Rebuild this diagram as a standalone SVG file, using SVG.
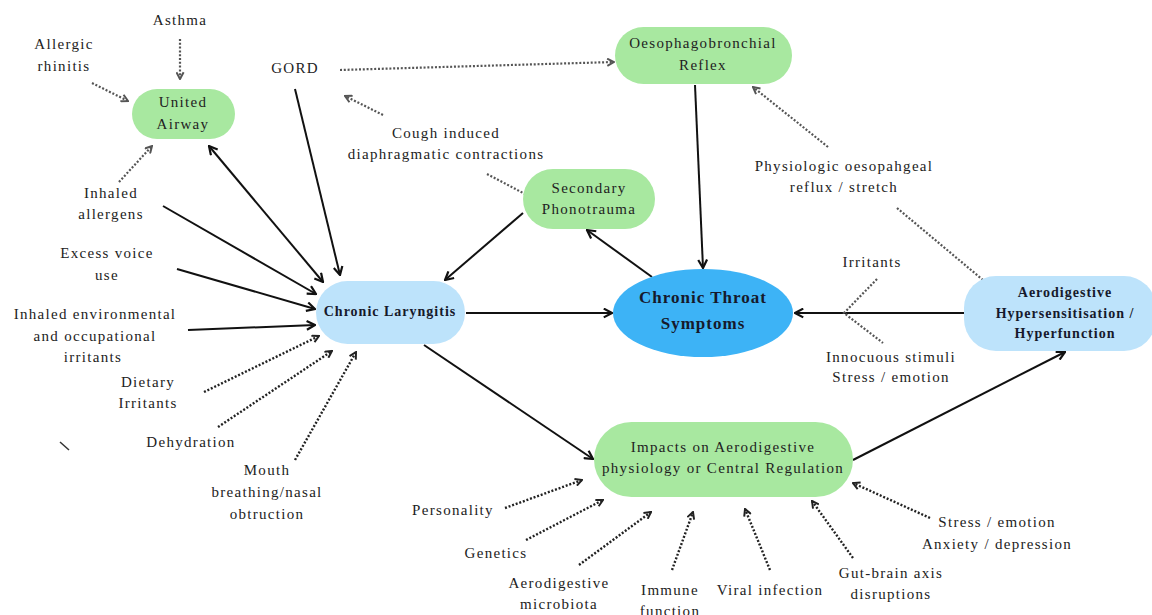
<svg xmlns="http://www.w3.org/2000/svg" width="1152" height="615" viewBox="0 0 1152 615">
<style>
.t{font-family:"Liberation Serif","Times New Roman",serif;font-size:15px;letter-spacing:1.3px;fill:#222;text-anchor:middle}
.b{font-family:"Liberation Serif","Times New Roman",serif;font-size:14px;font-weight:bold;letter-spacing:1px;fill:#16192b;text-anchor:middle}
.bl{font-size:17px}
.green{fill:#a8e8a0}
.lblue{fill:#bde3fb}
.solid{fill:none;stroke:#111;stroke-width:2}
.dot{fill:none;stroke:#222;stroke-width:2.4;stroke-dasharray:2 1.8}
.dotg{fill:none;stroke:#555;stroke-width:2.2;stroke-dasharray:2 1.8}
</style>
<defs>
<marker id="ah" viewBox="0 0 10 10" refX="9" refY="5" markerWidth="11" markerHeight="11" markerUnits="userSpaceOnUse" orient="auto-start-reverse">
<path d="M1.5,1 L9,5 L1.5,9" fill="none" stroke="#111" stroke-width="2"/>
</marker>
<marker id="ad" viewBox="0 0 10 10" refX="9" refY="5" markerWidth="9" markerHeight="9" markerUnits="userSpaceOnUse" orient="auto">
<path d="M1.5,1 L9,5 L1.5,9" fill="none" stroke="#222" stroke-width="2.2"/>
</marker>
<marker id="adg" viewBox="0 0 10 10" refX="9" refY="5" markerWidth="9" markerHeight="9" markerUnits="userSpaceOnUse" orient="auto">
<path d="M1.5,1 L9,5 L1.5,9" fill="none" stroke="#555" stroke-width="2.2"/>
</marker>
</defs>
<rect width="1152" height="615" fill="#fff"/>

<g id="connectors">
<line class="solid" x1="295" y1="89" x2="340" y2="275" marker-end="url(#ah)"/>
<line class="solid" x1="209" y1="146" x2="323" y2="282" marker-start="url(#ah)" marker-end="url(#ah)"/>
<line class="solid" x1="163" y1="206" x2="316" y2="294" marker-end="url(#ah)"/>
<line class="solid" x1="177" y1="269" x2="315" y2="309" marker-end="url(#ah)"/>
<line class="solid" x1="188" y1="330" x2="315" y2="325" marker-end="url(#ah)"/>
<line class="solid" x1="523" y1="213" x2="445" y2="280" marker-end="url(#ah)"/>
<line class="solid" x1="652" y1="277" x2="587" y2="230" marker-end="url(#ah)"/>
<line class="solid" x1="695" y1="85" x2="703" y2="268" marker-end="url(#ah)"/>
<line class="solid" x1="466" y1="313" x2="612" y2="313" marker-end="url(#ah)"/>
<line class="solid" x1="964" y1="313" x2="795" y2="313" marker-end="url(#ah)"/>
<line class="solid" x1="424" y1="345" x2="593" y2="459" marker-end="url(#ah)"/>
<line class="solid" x1="853" y1="460" x2="1065" y2="352" marker-end="url(#ah)"/>

<line class="dotg" x1="180" y1="39" x2="180" y2="79" marker-end="url(#adg)"/>
<line class="dotg" x1="92" y1="83" x2="128" y2="101" marker-end="url(#adg)"/>
<line class="dotg" x1="119" y1="182" x2="152" y2="146" marker-end="url(#adg)"/>
<line class="dotg" x1="340" y1="70" x2="614" y2="62" marker-end="url(#adg)"/>
<line class="dotg" x1="383" y1="115" x2="345" y2="96" marker-end="url(#adg)"/>
<line class="dotg" x1="828" y1="147" x2="753" y2="87" marker-end="url(#adg)"/>
<line class="dot" x1="204" y1="392" x2="319" y2="336" marker-end="url(#ad)"/>
<line class="dot" x1="218" y1="427" x2="332" y2="351" marker-end="url(#ad)"/>
<line class="dot" x1="295" y1="460" x2="356" y2="352" marker-end="url(#ad)"/>
<line class="dot" x1="505" y1="508" x2="582" y2="480" marker-end="url(#ad)"/>
<line class="dot" x1="526" y1="540" x2="603" y2="500" marker-end="url(#ad)"/>
<line class="dot" x1="579" y1="565" x2="651" y2="512" marker-end="url(#ad)"/>
<line class="dot" x1="672" y1="570" x2="693" y2="512" marker-end="url(#ad)"/>
<line class="dot" x1="770" y1="570" x2="745" y2="509" marker-end="url(#ad)"/>
<line class="dot" x1="853" y1="558" x2="812" y2="501" marker-end="url(#ad)"/>
<line class="dot" x1="930" y1="518" x2="853" y2="483" marker-end="url(#ad)"/>

<line class="dotg" x1="487" y1="174" x2="525" y2="194"/>
<line class="dotg" x1="897" y1="208" x2="983" y2="280"/>
<polyline class="dotg" points="877,279 844,313 883,343"/>
<line x1="60" y1="442" x2="69" y2="450" stroke="#333" stroke-width="1.5"/>
</g>

<g id="united-airway">
<rect class="green" x="132" y="89" width="103" height="50" rx="25"/>
<text class="t" x="183" y="107">United</text>
<text class="t" x="183" y="129">Airway</text>
</g>
<g id="oesophagobronchial-reflex">
<rect class="green" x="615" y="27" width="177" height="57" rx="28.5"/>
<text class="t" x="703" y="48">Oesophagobronchial</text>
<text class="t" x="703" y="70">Reflex</text>
</g>
<g id="secondary-phonotrauma">
<rect class="green" x="523" y="169" width="132" height="60" rx="30"/>
<text class="t" x="589" y="193">Secondary</text>
<text class="t" x="589" y="214">Phonotrauma</text>
</g>
<g id="chronic-laryngitis">
<rect class="lblue" x="316" y="281" width="149" height="63" rx="31.5"/>
<text class="b" x="390" y="316">Chronic Laryngitis</text>
</g>
<g id="chronic-throat-symptoms">
<ellipse cx="703" cy="313" rx="90" ry="44" fill="#3db3f6"/>
<text class="b bl" x="703" y="303">Chronic Throat</text>
<text class="b bl" x="703" y="329">Symptoms</text>
</g>
<g id="aerodigestive-hypersensitisation">
<rect class="lblue" x="964" y="276" width="192" height="75" rx="32"/>
<text class="b" x="1065" y="297">Aerodigestive</text>
<text class="b" x="1065" y="318">Hypersensitisation /</text>
<text class="b" x="1065" y="338">Hyperfunction</text>
</g>
<g id="impacts">
<rect class="green" x="594" y="422" width="259" height="75" rx="37.5"/>
<text class="t" x="723" y="452">Impacts on Aerodigestive</text>
<text class="t" x="723" y="473">physiology or Central Regulation</text>
</g>

<g id="labels">
<text class="t" x="180" y="25">Asthma</text>
<text class="t" x="64" y="49">Allergic</text>
<text class="t" x="64" y="71">rhinitis</text>
<text class="t" x="295" y="73">GORD</text>
<text class="t" x="446" y="138">Cough induced</text>
<text class="t" x="446" y="159">diaphragmatic contractions</text>
<text class="t" x="844" y="171">Physiologic oesopahgeal</text>
<text class="t" x="844" y="192">reflux / stretch</text>
<text class="t" x="111" y="198">Inhaled</text>
<text class="t" x="111" y="219">allergens</text>
<text class="t" x="107" y="258">Excess voice</text>
<text class="t" x="107" y="280">use</text>
<text class="t" x="95" y="319">Inhaled environmental</text>
<text class="t" x="95" y="341">and occupational</text>
<text class="t" x="93" y="362">irritants</text>
<text class="t" x="148" y="387">Dietary</text>
<text class="t" x="148" y="408">Irritants</text>
<text class="t" x="191" y="447">Dehydration</text>
<text class="t" x="267" y="475">Mouth</text>
<text class="t" x="267" y="497">breathing/nasal</text>
<text class="t" x="267" y="519">obtruction</text>
<text class="t" x="872" y="267">Irritants</text>
<text class="t" x="891" y="362">Innocuous stimuli</text>
<text class="t" x="891" y="382">Stress / emotion</text>
<text class="t" x="453" y="515">Personality</text>
<text class="t" x="496" y="558">Genetics</text>
<text class="t" x="559" y="588">Aerodigestive</text>
<text class="t" x="559" y="609">microbiota</text>
<text class="t" x="670" y="595">Immune</text>
<text class="t" x="670" y="616">function</text>
<text class="t" x="770" y="595">Viral infection</text>
<text class="t" x="891" y="578">Gut-brain axis</text>
<text class="t" x="891" y="599">disruptions</text>
<text class="t" x="997" y="527">Stress / emotion</text>
<text class="t" x="997" y="549">Anxiety / depression</text>
</g>
</svg>
